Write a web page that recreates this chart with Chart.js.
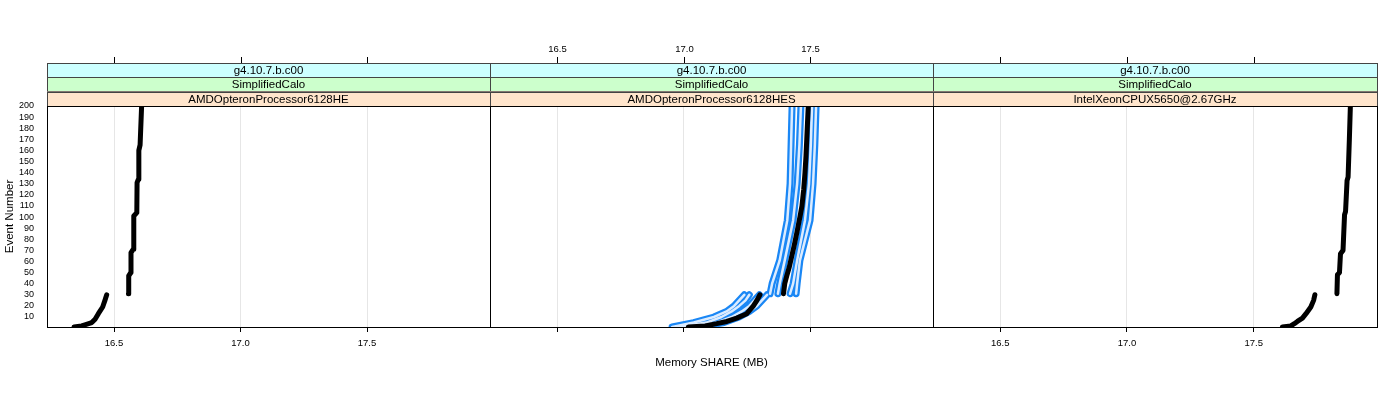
<!DOCTYPE html>
<html>
<head>
<meta charset="utf-8">
<title>Memory SHARE</title>
<script src="https://cdn.jsdelivr.net/npm/chart.js@4.4.1/dist/chart.umd.min.js"></script>
<style>
  body { margin: 0; background: #fff; }
  #wrap { position: relative; width: 1400px; height: 400px; }
  #wrap canvas { position: absolute; left: 0; top: 0; }
</style>
</head>
<body>
<div id="wrap">
  <canvas id="panel1" width="1400" height="400"></canvas>
  <canvas id="panel2" width="1400" height="400"></canvas>
  <canvas id="panel3" width="1400" height="400"></canvas>
</div>
<script>
const xTicks = [16.5, 17.0, 17.5];
const yTicks = [10, 20, 30, 40, 50, 60, 70, 80, 90, 100, 110, 120, 130, 140, 150, 160, 170, 180, 190, 200];
const stripLevels = ["g4.10.7.b.c00", "SimplifiedCalo"];
const processors = ["AMDOpteronProcessor6128HE", "AMDOpteronProcessor6128HES", "IntelXeonCPUX5650@2.67GHz"];

// AMDOpteronProcessor6128HE (events 1-30, then 31-200)
const heEventsA = [1, 2, 3, 5, 8, 13, 19, 25, 30];
const heMemA = [16.342, 16.372, 16.385, 16.412, 16.425, 16.438, 16.455, 16.464, 16.471];
const heEventsB = [31, 47, 50, 68, 71, 101, 104, 131, 134, 160, 165, 200];
const heMemB = [16.557, 16.558, 16.566, 16.567, 16.576, 16.578, 16.590, 16.591, 16.596, 16.598, 16.603, 16.609];

// AMDOpteronProcessor6128HES, mean run (black)
const hesEventsA = [1, 2, 4, 6, 9, 13, 20, 25, 30];
const hesMemA = [17.019, 17.085, 17.131, 17.171, 17.210, 17.250, 17.276, 17.290, 17.302];
const hesEventsB = [31, 40, 47, 55, 65, 75, 86, 100, 110, 125, 140, 155, 170, 185, 200];
const hesMemB = [17.395, 17.400, 17.408, 17.418, 17.428, 17.438, 17.448, 17.460, 17.468, 17.475, 17.480, 17.484, 17.487, 17.490, 17.493];

// AMDOpteronProcessor6128HES, single runs (blue)
const runEventsA = [1, 5, 10, 15, 20, 25, 30];
const runEventsB = [31, 40, 61, 97, 130, 165, 200];
const run1A = [16.955, 17.04, 17.12, 17.17, 17.20, 17.22, 17.24];
const run1B = [17.342, 17.35, 17.38, 17.41, 17.421, 17.425, 17.429];
const run2A = [16.98, 17.09, 17.15, 17.19, 17.22, 17.245, 17.26];
const run2B = [17.373, 17.38, 17.40, 17.433, 17.449, 17.458, 17.464];
const run3A = [17.04, 17.13, 17.19, 17.23, 17.26, 17.28, 17.30];
const run3B = [17.421, 17.433, 17.449, 17.48, 17.496, 17.503, 17.508];
const run4A = [17.06, 17.16, 17.22, 17.26, 17.29, 17.31, 17.33];
const run4B = [17.445, 17.449, 17.46, 17.50, 17.512, 17.519, 17.524];

// IntelXeonCPUX5650@2.67GHz
const intelEventsA = [1, 2, 4, 6, 9, 13, 19, 25, 30];
const intelMemA = [17.613, 17.646, 17.660, 17.672, 17.692, 17.706, 17.725, 17.736, 17.741];
const intelEventsB = [31, 48, 50, 67, 70, 102, 105, 133, 136, 170, 200];
const intelMemB = [17.828, 17.830, 17.838, 17.842, 17.852, 17.858, 17.862, 17.868, 17.872, 17.877, 17.881];

const FONT = "'Liberation Sans', Arial, Helvetica, sans-serif";

function pts(events, mem) {
  return events.map((e, i) => ({ x: mem[i], y: e }));
}

function blackLine(events, mem) {
  return {
    data: pts(events, mem),
    showLine: true,
    borderColor: "#000000",
    borderWidth: 5,
    pointRadius: 0,
    borderCapStyle: "round",
    borderJoinStyle: "round",
    order: 0
  };
}

function blueRun(events, mem) {
  // open circles overlap into a band: blue rim with a pale middle
  return [
    { data: pts(events, mem), showLine: true, borderColor: "#1a87f5", borderWidth: 7, pointRadius: 0,
      borderCapStyle: "round", borderJoinStyle: "round", order: 2 },
    { data: pts(events, mem), showLine: true, borderColor: "#dcecff", borderWidth: 2.5, pointRadius: 0,
      borderCapStyle: "round", borderJoinStyle: "round", order: 1 }
  ];
}

// strips, panel box and the ticks above the strips
const stripPlugin = {
  id: "strips",
  afterDraw(chart, args, opts) {
    const ctx = chart.ctx;
    const a = chart.chartArea;
    const xs = chart.scales.x;
    const bands = [[stripLevels[0], "#ccffff"], [stripLevels[1], "#ccffcc"], [opts.name, "#ffe5cc"]];
    const top = 63;
    const h = (a.top - top) / 3;
    ctx.save();
    bands.forEach((b, i) => {
      const y = top + i * h;
      ctx.fillStyle = b[1];
      ctx.fillRect(a.left, y, a.right - a.left, h);
      ctx.strokeStyle = "#444";
      ctx.lineWidth = 1;
      ctx.strokeRect(a.left + 0.5, Math.round(y) + 0.5, a.right - a.left, Math.round(h));
      ctx.fillStyle = "#000";
      ctx.font = "11.5px " + FONT;
      ctx.textAlign = "center";
      ctx.textBaseline = "middle";
      ctx.fillText(b[0], (a.left + a.right) / 2, y + h / 2 + 0.5);
    });
    ctx.strokeStyle = "#000";
    ctx.strokeRect(a.left + 0.5, a.top + 0.5, a.right - a.left, a.bottom - a.top);
    xTicks.forEach((v) => {
      const px = Math.round(xs.getPixelForValue(v)) + 0.5;
      ctx.beginPath();
      ctx.moveTo(px, 57);
      ctx.lineTo(px, 63);
      ctx.stroke();
      if (opts.topLabels) {
        ctx.font = "9.5px " + FONT;
        ctx.textAlign = "center";
        ctx.textBaseline = "middle";
        ctx.fillText(v.toFixed(1), px, 49);
      }
    });
    ctx.restore();
  }
};

function makePanel(id, idx, datasets, padL, padR) {
  const first = idx === 0;
  const middle = idx === 1;
  const config = {
    type: "scatter",
    data: { datasets: datasets },
    options: {
      responsive: false,
      animation: false,
      devicePixelRatio: 1,
      layout: { padding: { left: padL, right: padR, top: 106, bottom: 20 } },
      plugins: {
        legend: { display: false },
        tooltip: { enabled: false },
        strips: { name: processors[idx], topLabels: middle }
      },
      scales: {
        x: {
          type: "linear",
          min: 16.235,
          max: 17.986,
          afterBuildTicks: (s) => { s.ticks = xTicks.map((v) => ({ value: v })); },
          afterFit: (s) => { s.height = 53; },
          grid: { color: "#e6e6e6", tickColor: "#000", tickLength: 5, drawOnChartArea: true },
          border: { display: false },
          ticks: {
            padding: 6,
            color: middle ? "rgba(0,0,0,0)" : "#000",
            font: { family: FONT, size: 9.5 },
            callback: (v) => Number(v).toFixed(1)
          },
          title: {
            display: middle,
            text: "Memory SHARE (MB)",
            color: "#000",
            font: { family: FONT, size: 11.5 },
            padding: { top: 0, bottom: 10 }
          }
        },
        y: {
          type: "linear",
          display: first,
          min: 1,
          max: 200,
          afterBuildTicks: (s) => { s.ticks = yTicks.map((v) => ({ value: v })); },
          afterFit: (s) => { s.width = first ? 47 : 0; },
          grid: { display: false },
          border: { display: false },
          ticks: { padding: 5, color: "#000", font: { family: FONT, size: 9 }, autoSkip: false },
          title: {
            display: first,
            text: "Event Number",
            color: "#000",
            font: { family: FONT, size: 11.5 },
            padding: { top: 3, bottom: 0 }
          }
        }
      }
    },
    plugins: [stripPlugin]
  };
  return new Chart(document.getElementById(id), config);
}

makePanel("panel1", 0, [blackLine(heEventsA, heMemA), blackLine(heEventsB, heMemB)], 0, 1400 - 490);

makePanel("panel2", 1, [
  blackLine(hesEventsA, hesMemA),
  blackLine(hesEventsB, hesMemB),
  ...blueRun(runEventsA, run1A), ...blueRun(runEventsB, run1B),
  ...blueRun(runEventsA, run2A), ...blueRun(runEventsB, run2B),
  ...blueRun(runEventsA, run3A), ...blueRun(runEventsB, run3B),
  ...blueRun(runEventsA, run4A), ...blueRun(runEventsB, run4B)
], 490, 1400 - 933);

makePanel("panel3", 2, [blackLine(intelEventsA, intelMemA), blackLine(intelEventsB, intelMemB)], 933, 1400 - 1377);
</script>
</body>
</html>
